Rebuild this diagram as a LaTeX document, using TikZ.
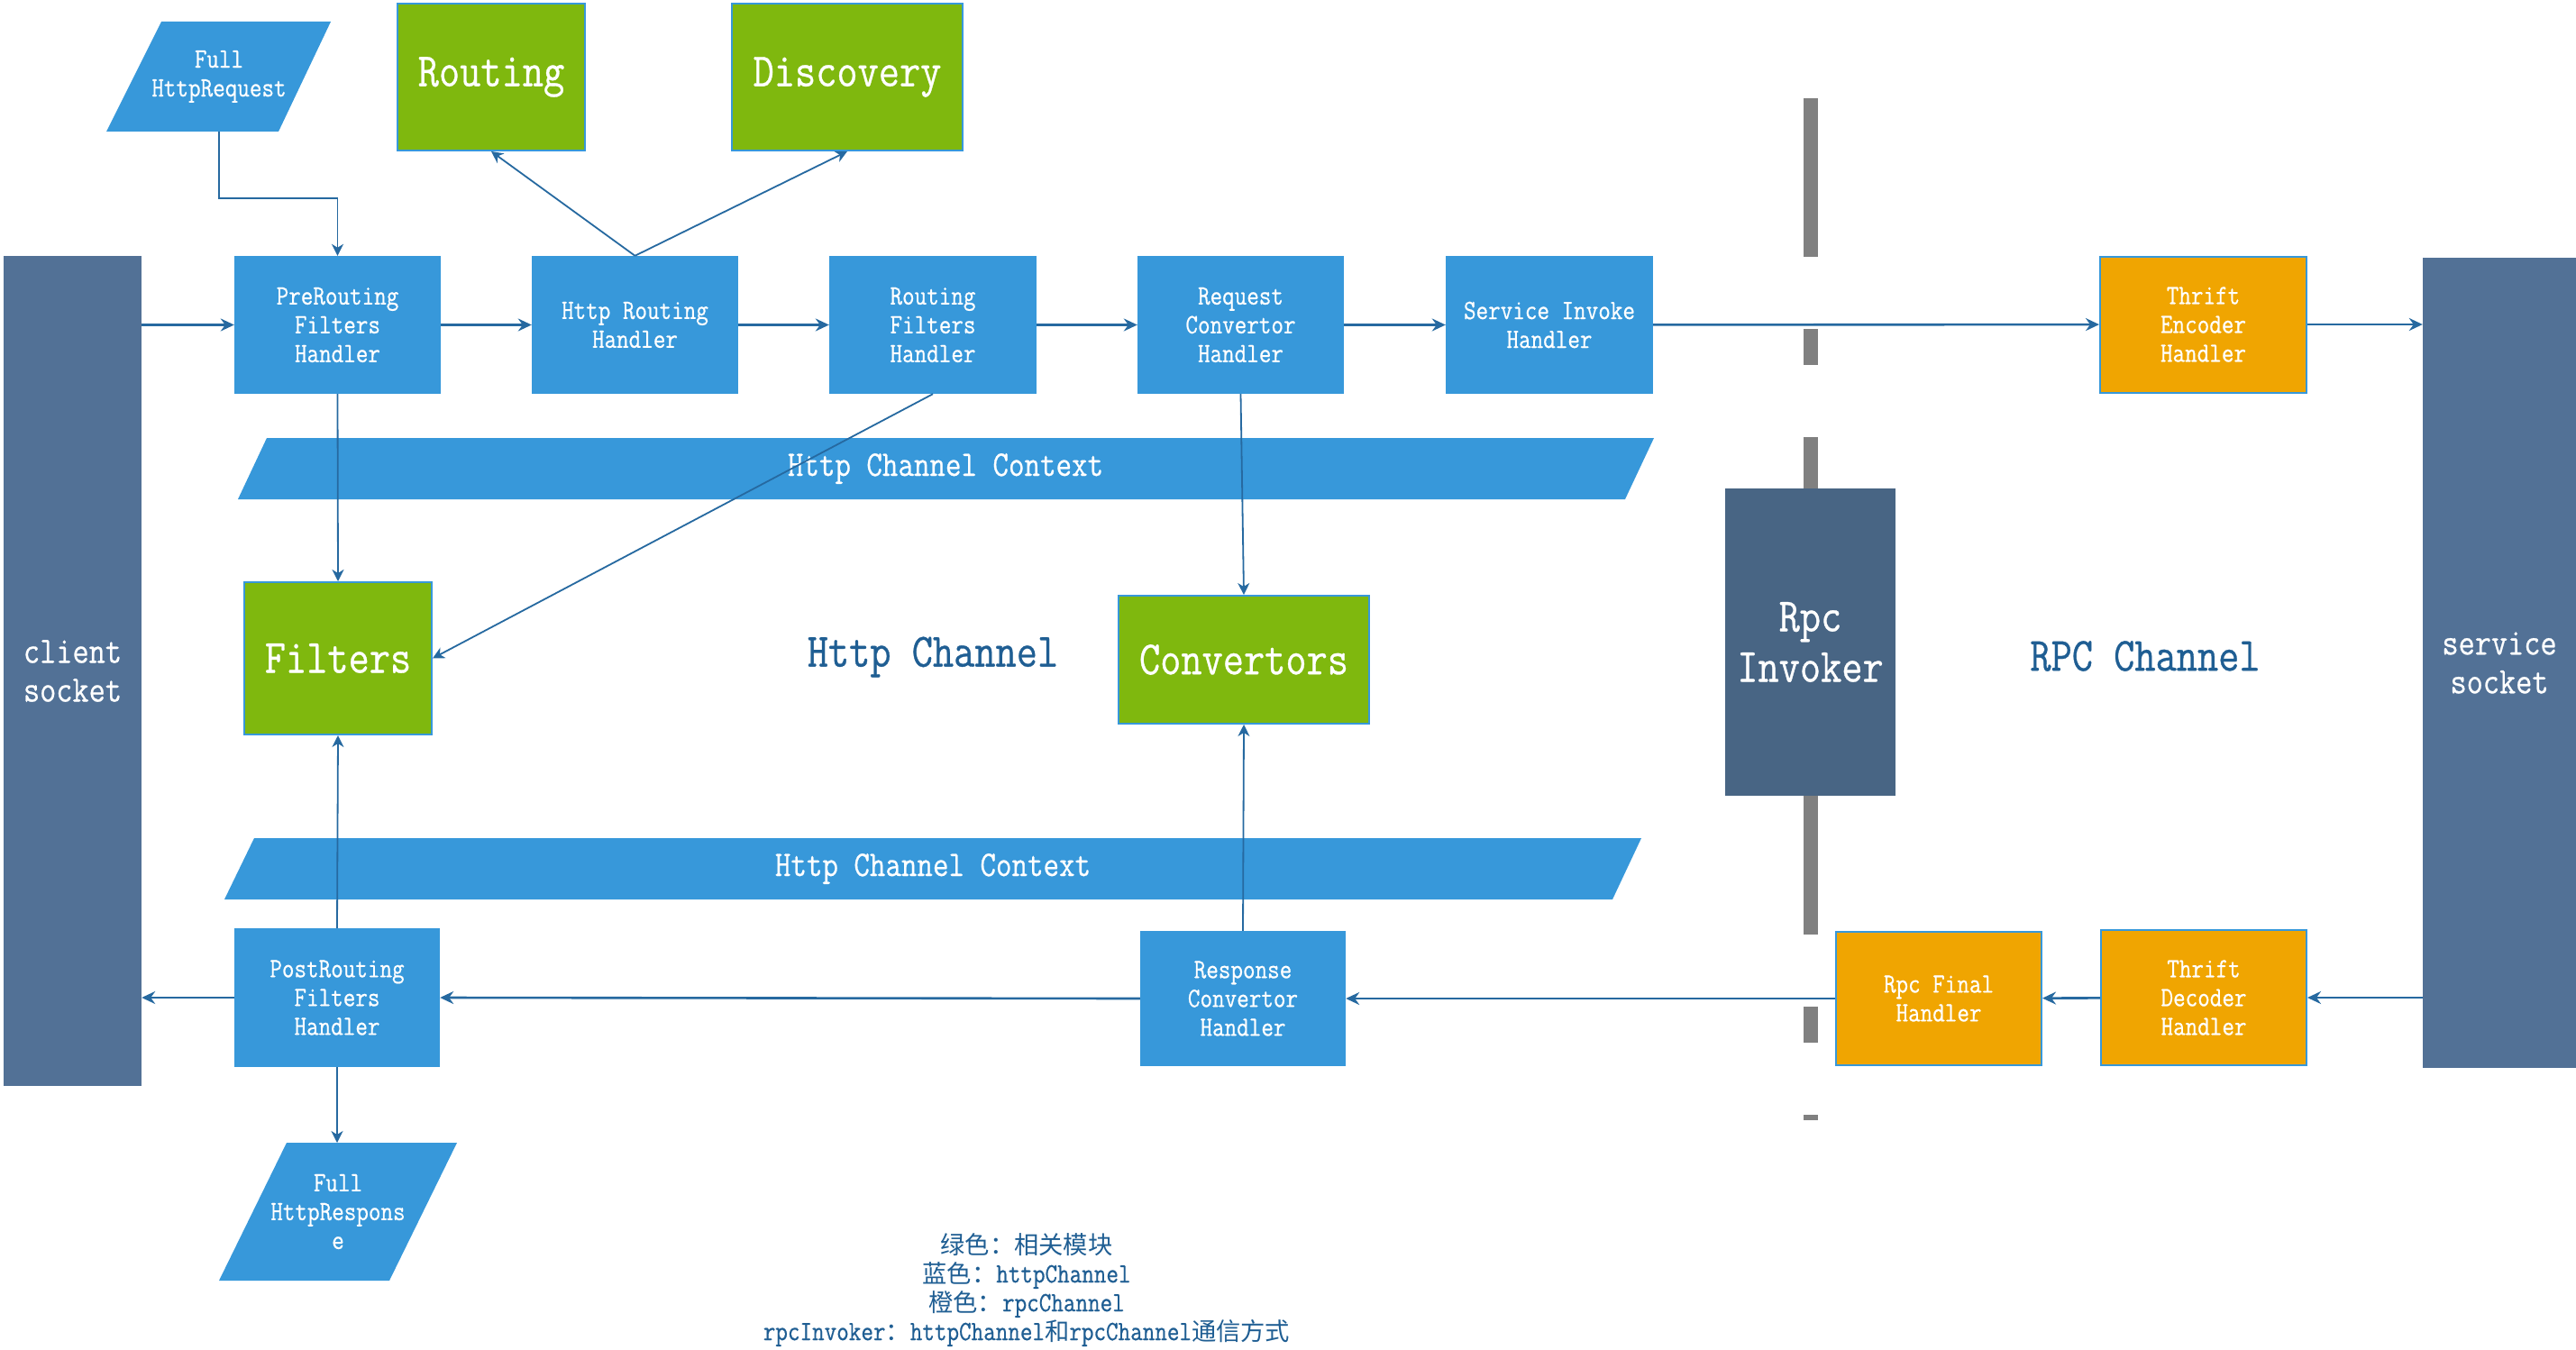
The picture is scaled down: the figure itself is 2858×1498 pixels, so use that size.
\documentclass[tikz,border=0pt]{standalone}
\usepackage{fontspec}
\setmainfont{Latin Modern Mono}[FakeStretch=0.85,FakeBold=0.6]
\newfontfamily\cjk{Noto Sans CJK SC}[Scale=0.88]
\usetikzlibrary{arrows.meta,calc}
\definecolor{boxblue}{HTML}{3798DA}
\definecolor{mgreen}{HTML}{7FB80E}
\definecolor{morange}{HTML}{F0A501}
\definecolor{slate}{HTML}{527196}
\definecolor{rpcslate}{HTML}{486584}
\definecolor{barg}{HTML}{808080}
\definecolor{arrowc}{HTML}{2669A0}
\definecolor{textblue}{HTML}{1F5E93}
\begin{document}
\begin{tikzpicture}[x=1pt,y=-1pt,
  smallfont/.style={font=\fontsize{31}{32}\selectfont},
  bigfont/.style={font=\fontsize{53}{56}\selectfont},
  handler/.style={rectangle, fill=boxblue, text=white, minimum width=229pt, minimum height=153pt, inner sep=0pt, align=center, smallfont},
  rpcbox/.style={handler, fill=morange, draw=boxblue, line width=2pt, minimum width=228pt},
  module/.style={rectangle, fill=mgreen, draw=boxblue, line width=2pt, text=white, inner sep=0pt, align=center, bigfont},
  socketbox/.style={rectangle, fill=slate, text=white, inner sep=0pt, align=center, font=\fontsize{41.5}{43}\selectfont},
  para/.style={text=white, align=center, inner sep=0pt, smallfont},
  ctxtext/.style={text=white, inner sep=0pt, font=\fontsize{40}{40}\selectfont},
  chlabel/.style={text=textblue, inner sep=0pt, bigfont},
  flow/.style={draw=arrowc, line width=2.6pt, -{Stealth[length=15pt,width=14pt,inset=5pt]}},
  thin/.style={draw=arrowc, line width=1.8pt, -{Stealth[length=13pt,width=13pt,inset=4pt]}},
  graybar/.style={draw=barg, line width=16pt, dash pattern=on 176pt off 80pt on 40pt off 80pt}
]
\useasboundingbox[fill=white] (0,0) rectangle (2858,1498);

% context bands
\fill[boxblue] (296,486) -- (1835,486) -- (1803,554) -- (264,554) -- cycle;
\node[ctxtext] (ctx1) at (1049,520) {Http Channel Context};
\fill[boxblue] (282,930) -- (1821,930) -- (1789,998) -- (249,998) -- cycle;
\node[ctxtext] (ctx2) at (1035,964) {Http Channel Context};

% separator between channels
\draw[graybar] (2009,109) -- (2009,1243);

% sockets
\node[socketbox, minimum width=153pt, minimum height=921pt] (cs) at (80.5,744.5) {client\\socket};
\node[socketbox, minimum width=170pt, minimum height=899pt] (ss) at (2773,735.5) {service\\socket};

% parallelograms
\fill[boxblue] (179,24) -- (367,24) -- (309,146) -- (118,146) -- cycle;
\node[para, minimum height=122pt] (req) at (243,85) {Full\\HttpRequest};
\fill[boxblue] (318,1268) -- (507,1268) -- (432,1421) -- (243,1421) -- cycle;
\node[para, minimum height=153pt] (resp) at (375,1344.5) {Full\\HttpRespons\\e};

% request handlers
\node[handler] (pre) at (374.5,360.5) {PreRouting\\Filters\\Handler};
\node[handler] (hr) at (704.5,360.5) {Http Routing\\Handler};
\node[handler, minimum width=230pt] (rf) at (1035,360.5) {Routing\\Filters\\Handler};
\node[handler] (rc) at (1376.5,360.5) {Request\\Convertor\\Handler};
\node[handler, minimum width=230pt] (si) at (1719,360.5) {Service Invoke\\Handler};
\node[rpcbox, minimum width=229pt, minimum height=151pt] (te) at (2444.5,360) {Thrift\\Encoder\\Handler};

% modules
\node[module, minimum width=208pt, minimum height=163pt] (routing) at (545,85.5) {Routing};
\node[module, minimum width=256pt, minimum height=163pt] (disc) at (940,85.5) {Discovery};
\node[module, minimum width=208pt, minimum height=169pt] (filters) at (375,730.5) {Filters};
\node[module, minimum width=278pt, minimum height=142pt] (conv) at (1380,732) {Convertors};

% channel labels
\node[chlabel] (httpch) at (1035,729) {Http Channel};
\node[chlabel] (rpcch) at (2380,728) {RPC Channel};

% rpc invoker
\node[rectangle, fill=rpcslate, text=white, inner sep=0pt, align=center, bigfont, minimum width=189pt, minimum height=341pt] (ri) at (2008.5,712.5) {Rpc\\Invoker};

% response handlers
\node[rpcbox, minimum height=148pt] (rfin) at (2151,1108) {Rpc Final\\Handler};
\node[rpcbox, minimum height=150pt] (td) at (2445,1107) {Thrift\\Decoder\\Handler};
\node[handler, minimum width=228pt, minimum height=150pt] (resc) at (1379,1108) {Response\\Convertor\\Handler};
\node[handler, minimum width=228pt, minimum height=154pt] (post) at (374,1107) {PostRouting\\Filters\\Handler};

% legend
\node[text=textblue, align=center, inner sep=0pt, smallfont] (legend) at (1139,1431)
  {{\cjk 绿色：相关模块}\\{\cjk 蓝色：}httpChannel\\{\cjk 橙色：}rpcChannel\\rpcInvoker{\cjk ：}httpChannel{\cjk 和}rpcChannel{\cjk 通信方式}};

% request flow
\draw[flow] (cs.east |- pre.west) -- (pre.west);
\draw[flow] (pre) -- (hr);
\draw[flow] (hr) -- (rf);
\draw[flow] (rf) -- (rc);
\draw[flow] (rc) -- (si);
\draw[flow] (si) -- (te);
\draw[flow] (te.east) -- (te.east -| ss.west);
\draw[thin] (req.south) -- ++(0,74) -| (pre.north);
\draw[thin] (hr.north) -- (routing.south);
\draw[thin] (hr.north) -- (disc.south);
\draw[thin] (pre.south) -- (filters.north);
\draw[thin] (rf.south) -- (filters.east);
\draw[thin] (rc.south) -- (conv.north);

% response flow
\draw[flow] (td.east -| ss.west) -- (td.east);
\draw[flow] (td) -- (rfin);
\draw[flow] (rfin.west) -- (resc.east);
\draw[flow] (resc.west) -- (post.east);
\draw[flow] (post.west) -- (post.west -| cs.east);
\draw[thin] (post.north) -- (filters.south);
\draw[thin] (resc.north) -- (conv.south);
\draw[thin] (post.south) -- (post.south |- 0,1268);
\end{tikzpicture}
\end{document}
